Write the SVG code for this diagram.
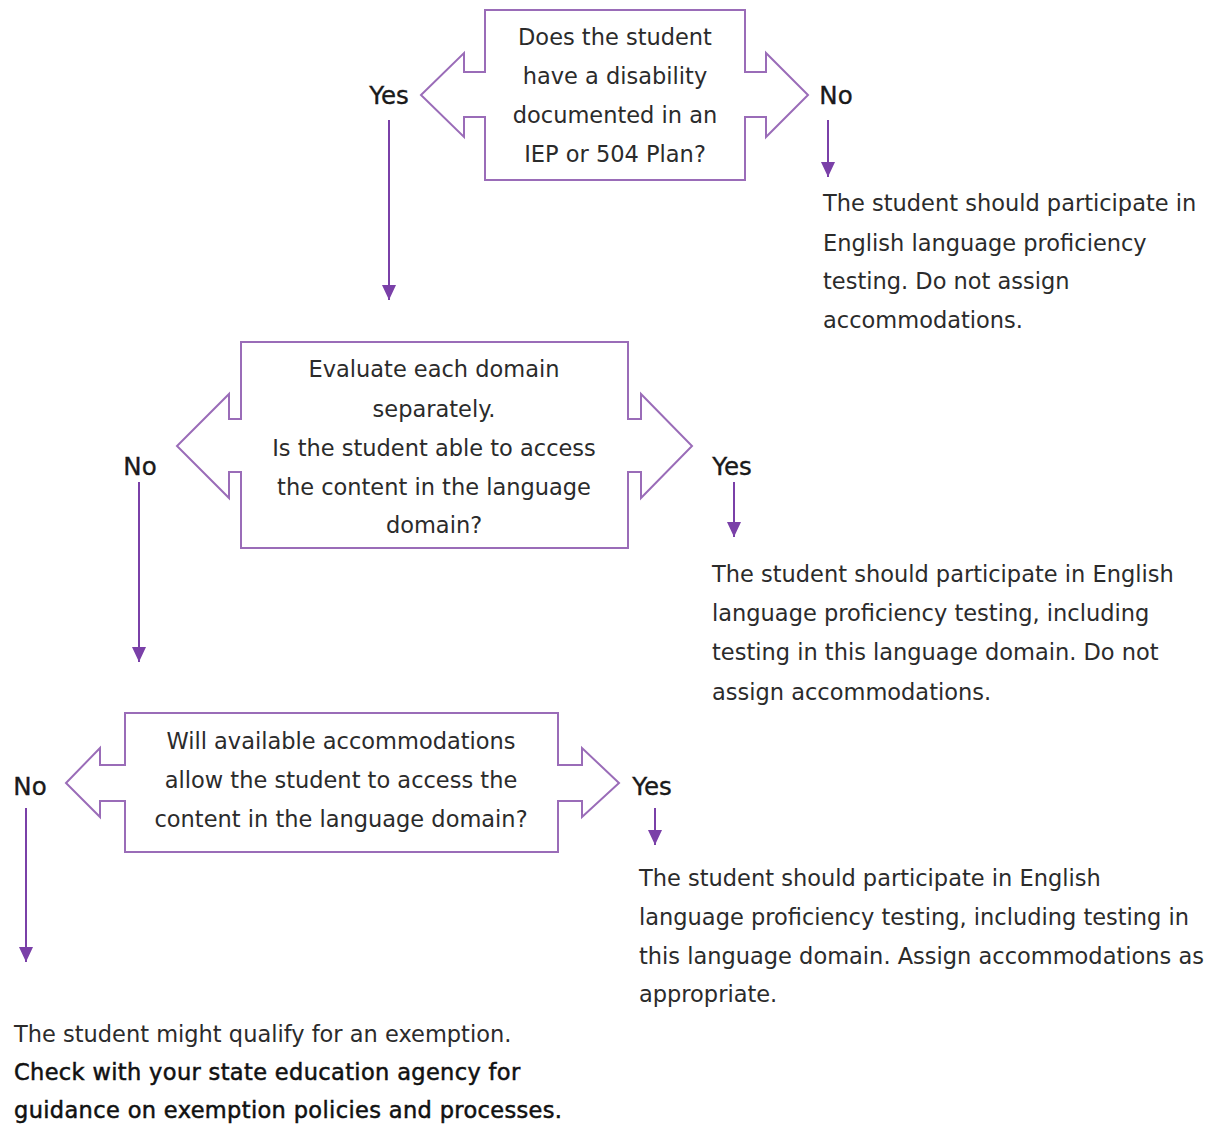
<svg xmlns="http://www.w3.org/2000/svg" width="1207" height="1125" viewBox="0 0 1207 1125">
<defs>
<style>
text{font-family:"DejaVu Sans","Liberation Sans",sans-serif;font-size:22.5px;fill:#2b2b2b}
.c{text-anchor:middle}
.b{fill:#111;stroke:#111;stroke-width:0.5;letter-spacing:0.35px}
.lbl{font-size:24.5px;fill:#1a1a1a;stroke:#1a1a1a;stroke-width:0.35;text-anchor:middle}
.shape{fill:#fff;stroke:#9a6cb8;stroke-width:2;stroke-linejoin:miter}
.conn{stroke:#7a40a8;stroke-width:2;fill:none}
</style>
<marker id="ah" viewBox="0 0 15 14" refX="15" refY="7" markerWidth="15" markerHeight="14" markerUnits="userSpaceOnUse" orient="auto">
<path d="M0,0 L15,7 L0,14 Z" fill="#7a40a8"/>
</marker>
</defs>
<rect width="1207" height="1125" fill="#fff"/>

<g id="node-q1">
<path class="shape" d="M485,10 H745 V72 H766 V53 L808,95 L766,137 V117 H745 V180 H485 V117 H464 V137 L421,95 L464,53 V72 H485 Z"/>
<text class="c" x="615" y="45">Does the student</text>
<text class="c" x="615" y="84">have a disability</text>
<text class="c" x="615" y="123">documented in an</text>
<text class="c" x="615" y="162">IEP or 504 Plan?</text>
</g>

<g id="node-q2">
<path class="shape" d="M241,342 H628 V419 H641 V394 L692,446 L641,498 V472 H628 V548 H241 V472 H229 V498 L177,446 L229,394 V419 H241 Z"/>
<text class="c" x="434" y="377">Evaluate each domain</text>
<text class="c" x="434" y="417">separately.</text>
<text class="c" x="434" y="456">Is the student able to access</text>
<text class="c" x="434" y="495">the content in the language</text>
<text class="c" x="434" y="533">domain?</text>
</g>

<g id="node-q3">
<path class="shape" d="M125,713 H558 V765 H582 V748 L619,783 L582,817 V801 H558 V852 H125 V801 H100 V817 L66,783 L100,748 V765 H125 Z"/>
<text class="c" x="341" y="749">Will available accommodations</text>
<text class="c" x="341" y="788">allow the student to access the</text>
<text class="c" x="341" y="827">content in the language domain?</text>
</g>

<g id="node-r1">
<text x="823" y="211">The student should participate in</text>
<text x="823" y="251">English language proficiency</text>
<text x="823" y="289">testing. Do not assign</text>
<text x="823" y="328">accommodations.</text>
</g>

<g id="node-r2">
<text x="712" y="582">The student should participate in English</text>
<text x="712" y="621">language proficiency testing, including</text>
<text x="712" y="660">testing in this language domain. Do not</text>
<text x="712" y="700">assign accommodations.</text>
</g>

<g id="node-r3">
<text x="639" y="886">The student should participate in English</text>
<text x="639" y="925">language proficiency testing, including testing in</text>
<text x="639" y="964">this language domain. Assign accommodations as</text>
<text x="639" y="1002">appropriate.</text>
</g>

<g id="node-r4">
<text x="14" y="1042">The student might qualify for an exemption.</text>
<text class="b" x="14" y="1080">Check with your state education agency for</text>
<text class="b" x="14" y="1118">guidance on exemption policies and processes.</text>
</g>

<g id="connectors">
<text class="lbl" x="389" y="104">Yes</text>
<text class="lbl" x="836" y="104">No</text>
<text class="lbl" x="140" y="475">No</text>
<text class="lbl" x="732" y="475">Yes</text>
<text class="lbl" x="30" y="795">No</text>
<text class="lbl" x="652" y="795">Yes</text>
<line class="conn" x1="389" y1="120" x2="389" y2="300" marker-end="url(#ah)"/>
<line class="conn" x1="828" y1="120" x2="828" y2="177" marker-end="url(#ah)"/>
<line class="conn" x1="139" y1="482" x2="139" y2="662" marker-end="url(#ah)"/>
<line class="conn" x1="734" y1="482" x2="734" y2="537" marker-end="url(#ah)"/>
<line class="conn" x1="26" y1="808" x2="26" y2="962" marker-end="url(#ah)"/>
<line class="conn" x1="655" y1="808" x2="655" y2="845" marker-end="url(#ah)"/>
</g>
</svg>
